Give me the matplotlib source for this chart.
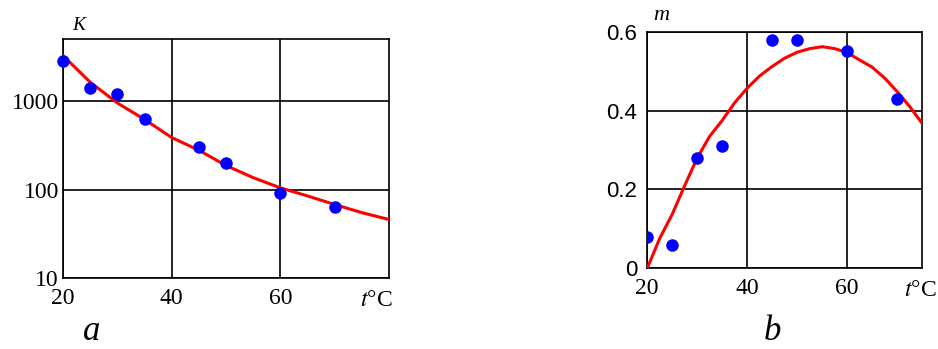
import numpy as np
import matplotlib
matplotlib.use("Agg")
import matplotlib.pyplot as plt

plt.rcParams["font.family"] = ["Liberation Serif", "DejaVu Serif"]
plt.rcParams["mathtext.fontset"] = "stix"

# panel a: K vs t (log scale)
t_a = [20, 25, 30, 35, 45, 50, 60, 70]
k_a = [2850, 1430, 1200, 636, 305, 201, 92, 64]
fit_t_a = [20, 25, 30, 35, 40, 45, 50, 55, 60, 65, 70, 75, 80]
fit_k_a = [3300, 1650, 960, 625, 390, 280, 188, 137, 105, 85, 68, 55, 46]

# panel b: m vs t
t_b = [20, 25, 30, 35, 45, 50, 60, 70]
m_b = [0.08, 0.06, 0.28, 0.31, 0.58, 0.58, 0.55, 0.43]
fit_t_b = [20, 22.5, 25, 27.5, 30, 32.5, 35, 37.5, 40, 42.5, 45, 47.5, 50,
           52.5, 55, 57.5, 60, 62.5, 65, 67.5, 70, 72.5, 75]
fit_m_b = [0.0, 0.076, 0.137, 0.21, 0.28, 0.335, 0.375, 0.42, 0.457, 0.488,
           0.512, 0.533, 0.548, 0.557, 0.562, 0.557, 0.547, 0.528, 0.51,
           0.482, 0.448, 0.41, 0.367]

RED = "#ff0000"
BLUE = "#0000ff"

fig = plt.figure(figsize=(9.38, 3.49), dpi=100)
ax1 = fig.add_axes([0.0672, 0.2034, 0.3475, 0.685])
ax2 = fig.add_axes([0.690, 0.2312, 0.2932, 0.678])

# --- panel a
ax1.plot(fit_t_a, fit_k_a, color=RED, lw=2.2, zorder=3)
ax1.plot(t_a, k_a, "o", color=BLUE, ms=8, zorder=4, clip_on=False)
ax1.set_yscale("log")
ax1.set_xlim(20, 80)
ax1.set_ylim(10, 5100)
ax1.set_xticks([20, 40, 60])
ax1.set_xticklabels(["20", "40", "60"])
ax1.set_yticks([10, 100, 1000])
ax1.set_yticklabels(["10", "100", "1000"])
ax1.minorticks_off()
ax1.tick_params(length=0, labelsize=17)
ax1.tick_params(axis="x", pad=7)
ax1.tick_params(axis="y", pad=3)
ax1.text(0.028, 1.02, "K", transform=ax1.transAxes, style="italic",
         fontsize=14, ha="left", va="bottom")
ax1.text(1.01, -0.05, r"$t$°C", transform=ax1.transAxes, fontsize=17,
         ha="right", va="top")
fig.text(0.098, 0.003, "a", style="italic", fontsize=25, ha="center",
         va="bottom")

# --- panel b
ax2.plot(fit_t_b, fit_m_b, color=RED, lw=2.2, zorder=3)
ax2.plot(t_b, m_b, "o", color=BLUE, ms=8, zorder=4)
ax2.set_xlim(20, 75)
ax2.set_ylim(0, 0.6)
ax2.set_xticks([20, 40, 60])
ax2.set_xticklabels(["20", "40", "60"])
ax2.set_yticks([0, 0.2, 0.4, 0.6])
ax2.set_yticklabels(["0", "0.2", "0.4", "0.6"], family="Liberation Sans")
ax2.tick_params(length=0, labelsize=17)
ax2.tick_params(axis="y", labelsize=16, pad=7)
ax2.tick_params(axis="x", pad=7)
ax2.text(0.02, 1.03, "m", transform=ax2.transAxes, style="italic",
         fontsize=16, ha="left", va="bottom")
ax2.text(1.05, -0.05, r"$t$°C", transform=ax2.transAxes, fontsize=17,
         ha="right", va="top")
fig.text(0.823, 0.003, "b", style="italic", fontsize=25, ha="center",
         va="bottom")

for ax in (ax1, ax2):
    ax.grid(True, color="black", lw=1.2)
    ax.set_axisbelow(True)
    for s in ax.spines.values():
        s.set_linewidth(1.2)

fig.savefig("out.png", dpi=100)
